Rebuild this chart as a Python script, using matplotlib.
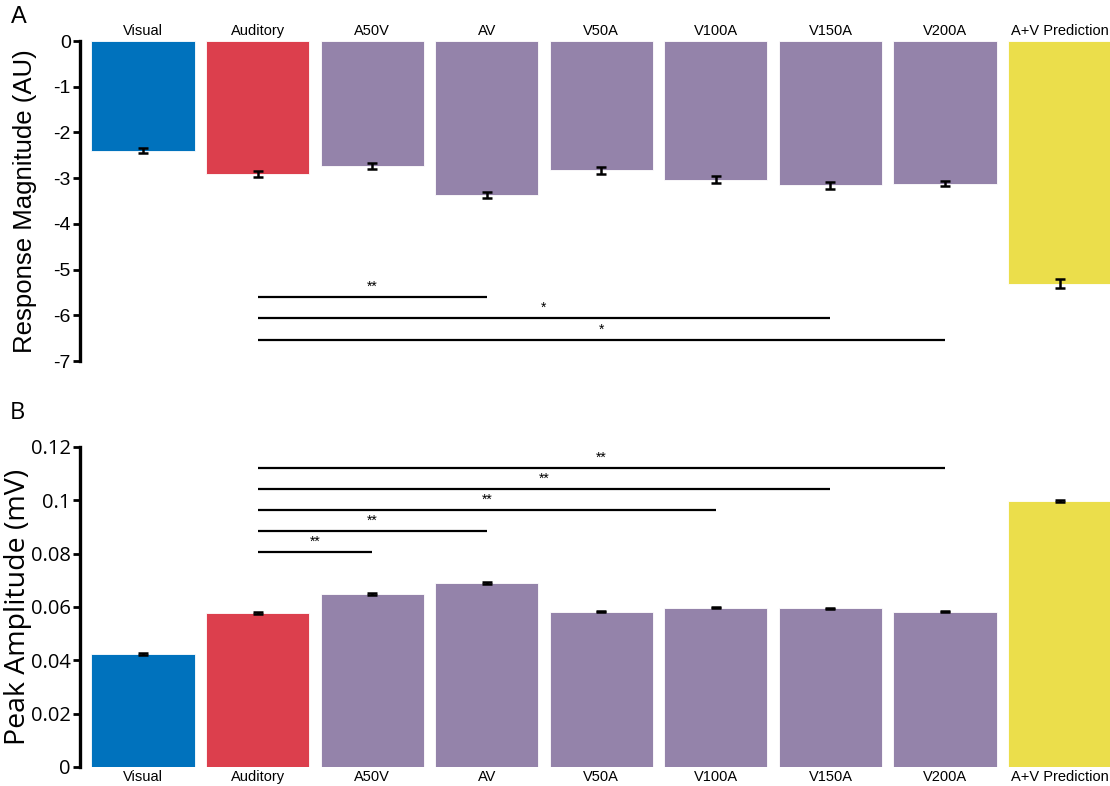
import matplotlib
matplotlib.use("Agg")
import matplotlib.pyplot as plt
import numpy as np

plt.rcParams['axes.unicode_minus'] = False

conditions = ["Visual", "Auditory", "A50V", "AV", "V50A", "V100A", "V150A", "V200A", "A+V Prediction"]
bar_colors = ["#0072BD", "#DC3F4D", "#9483AA", "#9483AA", "#9483AA",
              "#9483AA", "#9483AA", "#9483AA", "#EBDE4B"]

# panel A: response magnitude (AU)
resp_mean = [-2.40, -2.91, -2.73, -3.37, -2.83, -3.03, -3.16, -3.12, -5.31]
resp_err = [0.06, 0.06, 0.06, 0.07, 0.07, 0.07, 0.07, 0.05, 0.10]
# (from index, to index, label)
resp_sig = [(1, 3, "**"), (1, 6, "*"), (1, 7, "*")]
resp_sig_y = [-5.6, -6.06, -6.54]

# panel B: peak amplitude (mV)
peak_mean = [0.0423, 0.0577, 0.0648, 0.0690, 0.0582, 0.0598, 0.0595, 0.0583, 0.0998]
peak_err = [0.0003, 0.0003, 0.0003, 0.0003, 0.0002, 0.0002, 0.0002, 0.0002, 0.0003]
peak_sig = [(1, 2, "**"), (1, 3, "**"), (1, 5, "**"), (1, 6, "**"), (1, 7, "**")]
peak_sig_y = [0.0806, 0.0885, 0.0964, 0.1043, 0.1121]

x = np.arange(len(conditions))

fig = plt.figure(figsize=(11.1, 7.86), dpi=100)
W, H = 1110.0, 786.0

def make_axes(top_px, bottom_px):
    return fig.add_axes([80 / W, 1 - bottom_px / H, (W - 80) / W, (bottom_px - top_px) / H])

def style(ax, font, size):
    for s in ["top", "right", "bottom"]:
        ax.spines[s].set_visible(False)
    ax.spines["left"].set_linewidth(2.4)
    ax.tick_params(axis="y", length=5, width=2, labelsize=size, pad=1.5)
    ax.tick_params(axis="x", length=0, labelsize=10.5)
    for t in ax.get_yticklabels():
        t.set_family(font)
    for t in ax.get_xticklabels():
        t.set_family("Liberation Sans")
    ax.set_xlim(-0.55, 8.44)

# ---- panel A
axA = make_axes(41, 361)
axA.bar(x, resp_mean, width=0.9, color=bar_colors, edgecolor="white", linewidth=0.6)
axA.errorbar(x, resp_mean, yerr=resp_err, fmt="none", ecolor="black",
             elinewidth=1.8, capsize=3.5, capthick=1.8)
axA.set_ylim(-7, 0)
axA.set_yticks(np.arange(-7, 1, 1))
axA.set_yticklabels([str(v) for v in range(-7, 1)])
axA.xaxis.tick_top()
axA.set_xticks(x)
axA.set_xticklabels(conditions)
axA.tick_params(axis="x", pad=2)
for (i, j, lab), yy in zip(resp_sig, resp_sig_y):
    axA.plot([x[i], x[j]], [yy, yy], color="black", lw=1.6, solid_capstyle="butt")
    axA.text((x[i] + x[j]) / 2, yy + 0.07, lab, ha="center", va="bottom", fontsize=10,
             family="Liberation Sans")
axA.set_ylabel("Response Magnitude (AU)", fontsize=18.5, family="Liberation Sans")
axA.yaxis.set_label_coords(-0.042, 0.5)
style(axA, "Liberation Sans", 14)
fig.text(11 / W, 1 - 17 / H, "A", fontsize=17, family="Liberation Sans", va="center")

# ---- panel B
axB = make_axes(447, 767)
axB.bar(x, peak_mean, width=0.9, color=bar_colors, edgecolor="white", linewidth=0.6)
axB.errorbar(x, peak_mean, yerr=peak_err, fmt="none", ecolor="black",
             elinewidth=1.8, capsize=3.5, capthick=1.8)
axB.set_ylim(0, 0.12)
ticksB = [0, 0.02, 0.04, 0.06, 0.08, 0.1, 0.12]
axB.set_yticks(ticksB)
axB.set_yticklabels(["0", "0.02", "0.04", "0.06", "0.08", "0.1", "0.12"])
axB.set_xticks(x)
axB.set_xticklabels(conditions)
axB.tick_params(axis="x", pad=2)
for (i, j, lab), yy in zip(peak_sig, peak_sig_y):
    axB.plot([x[i], x[j]], [yy, yy], color="black", lw=1.6, solid_capstyle="butt")
    axB.text((x[i] + x[j]) / 2, yy + 0.0011, lab, ha="center", va="bottom", fontsize=10,
             family="Liberation Sans")
axB.set_ylabel("Peak Amplitude (mV)", fontsize=20.5, family="Open Sans")
axB.yaxis.set_label_coords(-0.0465, 0.5)
style(axB, "Open Sans", 14.5)
fig.text(10 / W, 1 - 413 / H, "B", fontsize=17, family="Open Sans", va="center")

fig.savefig("out.png", dpi=100)
